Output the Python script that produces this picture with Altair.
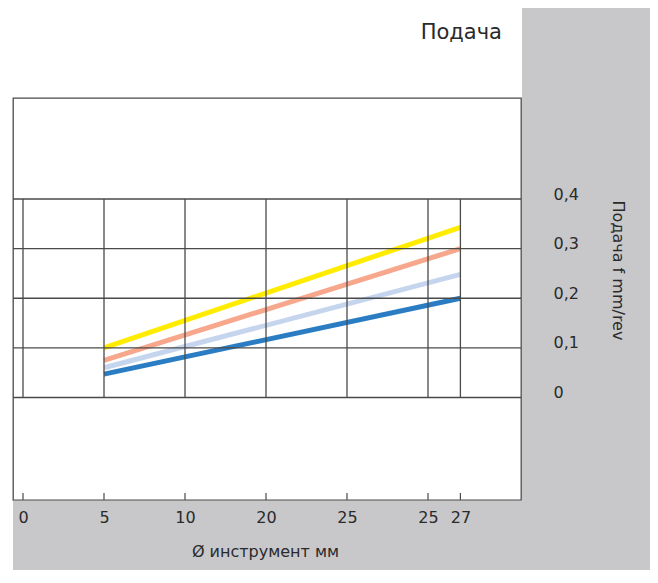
import altair as alt
import pandas as pd

# ---- data ----
x_pos = [5, 27]                        # line start/end on the position axis
series_names = ["yellow", "salmon", "lightblue", "blue"]
series_colors = ["#FFEC00", "#F6A78C", "#C6D5EE", "#2A7DC2"]
yellow = [0.100, 0.343]
salmon = [0.075, 0.300]
lightblue = [0.060, 0.248]
blue = [0.047, 0.200]

tick_pos = [0, 5, 10, 15, 20, 25, 27]
tick_labels = ["0", "5", "10", "20", "25", "25", "27"]
y_ticks = [0, 0.1, 0.2, 0.3, 0.4]
chart_title = ["Подача"]

FONT = "DejaVu Sans"
TXT = "#2a2a2a"
GRID = "#4a4a4a"
GRAY = "#C8C8CA"

W, H = 508, 402

rows = []
for name, vals in zip(series_names, [yellow, salmon, lightblue, blue]):
    for p, v in zip(x_pos, vals):
        rows.append({"series": name, "pos": p, "f": v})
lines_df = pd.DataFrame(rows)
vgrid_df = pd.DataFrame({"pos": tick_pos, "y0": [0.0] * len(tick_pos), "y1": [0.4] * len(tick_pos)})
hgrid_df = pd.DataFrame({"f": y_ticks})
title_df = pd.DataFrame({"t": chart_title})

xs = alt.Scale(domain=[0, 27], range=[10, 447.4])
ys = alt.Scale(domain=[0, 0.4], range=[299.5, 101])

label_expr = "".join(f"datum.value === {p} ? '{l}' : " for p, l in zip(tick_pos, tick_labels)) + "''"

x_axis = alt.Axis(
    values=tick_pos, labelExpr=label_expr, ticks=False, tickSize=0, domain=False, grid=False,
    labelPadding=22, labelBaseline="alphabetic", labelFont=FONT, labelFontSize=16, labelColor=TXT,
    labelFlush=False, labelOverlap=False,
    title="Ø инструмент мм", titleFont=FONT, titleFontSize=16, titleFontWeight="normal", titleColor=TXT,
    titleX=252, titleY=56, titleBaseline="alphabetic", titleAlign="center", zindex=1,
)
y_axis = alt.Axis(
    orient="right", values=y_ticks, labelExpr="replace(format(datum.value, '.1~f'), '.', ',')",
    ticks=False, tickSize=0, domain=False, grid=False, labelFlush=False,
    labelPadding=32, labelAlign="left", labelBaseline="alphabetic",
    labelFont=FONT, labelFontSize=16, labelColor=TXT,
    title="Подача f mm/rev", titleFont=FONT, titleFontSize=16, titleFontWeight="normal", titleColor=TXT,
    titleAngle=90, titleX=96, titleY=172, titleAlign="center", titleBaseline="middle", zindex=1,
)

gray_right = alt.Chart(hgrid_df).mark_rect(color=GRAY).encode(
    x=alt.value(509), x2=alt.value(637), y=alt.value(-91), y2=alt.value(472)
).transform_filter("datum.f == 0")
gray_bottom = alt.Chart(hgrid_df).mark_rect(color=GRAY).encode(
    x=alt.value(0), x2=alt.value(637), y=alt.value(402.7), y2=alt.value(472)
).transform_filter("datum.f == 0")

lines = alt.Chart(lines_df).mark_line(strokeWidth=5, strokeCap="butt").encode(
    x=alt.X("pos:Q", scale=xs, axis=x_axis),
    y=alt.Y("f:Q", scale=ys, axis=y_axis),
    color=alt.Color("series:N", scale=alt.Scale(domain=series_names, range=series_colors), legend=None),
    detail="series:N",
)

hgrid = alt.Chart(hgrid_df).mark_rule(color=GRID, strokeWidth=1.3).encode(
    y=alt.Y("f:Q", scale=ys), x=alt.value(0), x2=alt.value(W)
)
vgrid = alt.Chart(vgrid_df).mark_rule(color=GRID, strokeWidth=1.3).encode(
    x=alt.X("pos:Q", scale=xs), y=alt.Y("y0:Q", scale=ys), y2="y1:Q"
)
bticks = alt.Chart(vgrid_df).mark_rule(color=GRID, strokeWidth=1.2).encode(
    x=alt.X("pos:Q", scale=xs), y=alt.value(395), y2=alt.value(402)
)

title_mark = alt.Chart(title_df).mark_text(
    align="right", baseline="alphabetic", font=FONT, fontSize=21, color=TXT
).encode(text="t:N", x=alt.value(489), y=alt.value(-59))

chart = alt.layer(gray_right, gray_bottom, lines, hgrid, vgrid, bticks, title_mark).properties(
    width=W, height=H,
    autosize=alt.AutoSizeParams(type="none"),
    padding={"left": 5, "top": 90, "right": 129, "bottom": 70},
    background="white",
).configure_view(stroke="#4a4a4a", strokeWidth=1.3, fill="white")

chart.save("out.html", embed_options={"renderer": "svg", "actions": False})
